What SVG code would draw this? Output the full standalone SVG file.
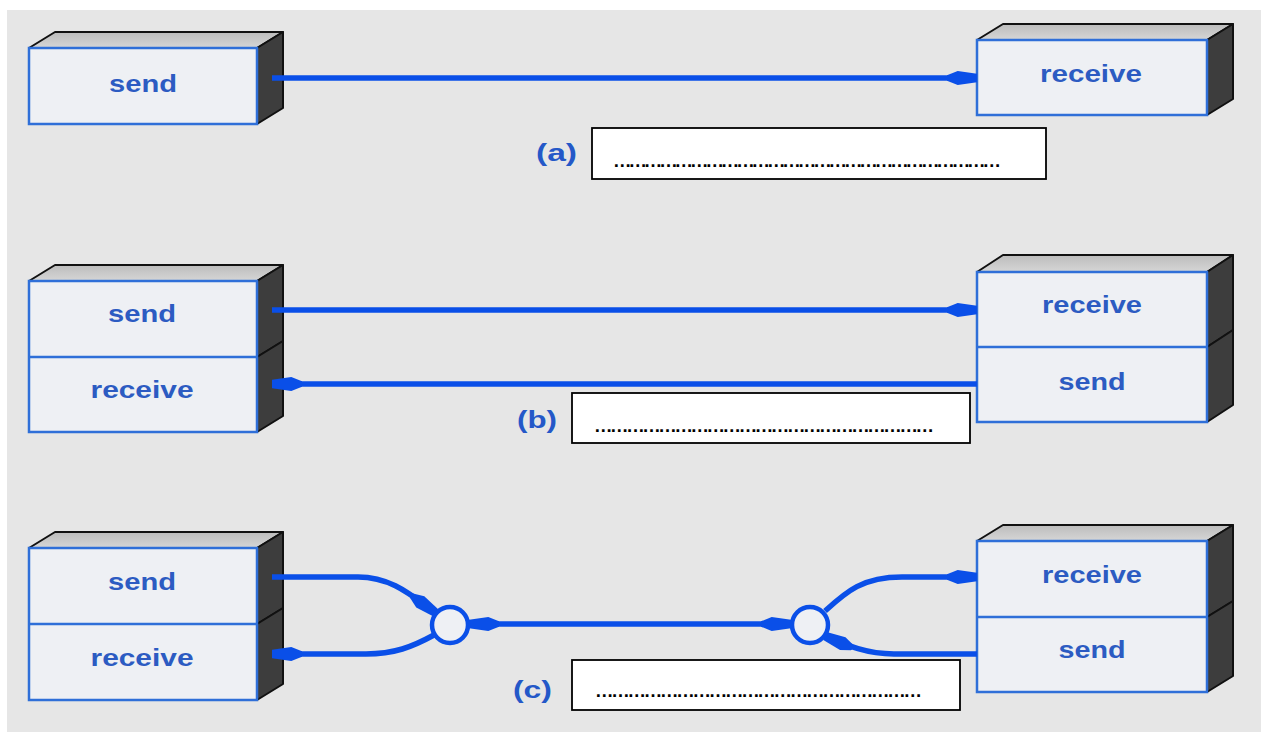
<svg xmlns="http://www.w3.org/2000/svg" width="1261" height="732" viewBox="0 0 1261 732">
<defs>
<linearGradient id="topg" x1="0" y1="0" x2="0" y2="1">
<stop offset="0" stop-color="#bcbcbc"/>
<stop offset="1" stop-color="#d6d6d6"/>
</linearGradient>
<marker id="ah" markerUnits="userSpaceOnUse" markerWidth="30" markerHeight="16" viewBox="0 0 28 14" refX="28" refY="7" orient="auto-start-reverse">
<path d="M0,4.5 L10,0.5 L28,3 L28,11 L10,13.5 L0,9.5 Z" fill="#0a4fe8"/>
</marker>
<style>
.top{fill:url(#topg);stroke:#111;stroke-width:2;stroke-linejoin:round}
.side{fill:#3d3d3d;stroke:#111;stroke-width:2;stroke-linejoin:round}
.front{fill:#eef0f4;stroke:#2f6fd8;stroke-width:2.5}
.div{stroke:#2f6fd8;stroke-width:2.5}
.lbl{font-family:"Liberation Sans",Arial,sans-serif;font-weight:bold;font-size:24px;fill:#2c5bc2}
.tag{font-family:"Liberation Sans",Arial,sans-serif;font-weight:bold;font-size:24px;fill:#2458c8}
.conn{fill:none;stroke:#0a4fe8;stroke-width:5.5}
.ring{fill:#eef0f4;stroke:#0a4fe8;stroke-width:4.5}
.ans{fill:#fff;stroke:#000;stroke-width:1.8}
.dots{font-family:"Liberation Sans",Arial,sans-serif;font-weight:bold;fill:#000}
</style>
</defs>
<rect x="0" y="0" width="1261" height="732" fill="#fff"/>
<rect x="7" y="10" width="1254" height="722" fill="#e6e6e6"/>

<g id="a-send">
<polygon class="top" points="29,48 55,32 283,32 257,48"/>
<polygon class="side" points="257,48 283,32 283,108 257,124"/>
<rect class="front" x="29" y="48" width="228" height="76"/>
<text class="lbl" x="143" y="92" text-anchor="middle" textLength="68" lengthAdjust="spacingAndGlyphs">send</text>
</g>
<g id="a-receive">
<polygon class="top" points="977,40 1003,24 1233,24 1207,40"/>
<polygon class="side" points="1207,40 1233,24 1233,99 1207,115"/>
<rect class="front" x="977" y="40" width="230" height="75"/>
<text class="lbl" x="1091" y="82" text-anchor="middle" textLength="102" lengthAdjust="spacingAndGlyphs">receive</text>
</g>

<g id="b-left">
<polygon class="top" points="29,281 55,265 283,265 257,281"/>
<polygon class="side" points="257,281 283,265 283,341 257,357"/>
<polygon class="side" points="257,357 283,341 283,416 257,432"/>
<rect class="front" x="29" y="281" width="228" height="151"/>
<line class="div" x1="29" y1="357" x2="257" y2="357"/>
<text class="lbl" x="142" y="322" text-anchor="middle" textLength="68" lengthAdjust="spacingAndGlyphs">send</text>
<text class="lbl" x="142" y="398" text-anchor="middle" textLength="103" lengthAdjust="spacingAndGlyphs">receive</text>
</g>
<g id="b-right">
<polygon class="top" points="977,272 1003,255 1233,255 1207,272"/>
<polygon class="side" points="1207,272 1233,255 1233,330 1207,347"/>
<polygon class="side" points="1207,347 1233,330 1233,405 1207,422"/>
<rect class="front" x="977" y="272" width="230" height="150"/>
<line class="div" x1="977" y1="347" x2="1207" y2="347"/>
<text class="lbl" x="1092" y="313" text-anchor="middle" textLength="100" lengthAdjust="spacingAndGlyphs">receive</text>
<text class="lbl" x="1092" y="390" text-anchor="middle" textLength="67" lengthAdjust="spacingAndGlyphs">send</text>
</g>

<g id="c-left">
<polygon class="top" points="29,548 55,532 283,532 257,548"/>
<polygon class="side" points="257,548 283,532 283,608 257,624"/>
<polygon class="side" points="257,624 283,608 283,684 257,700"/>
<rect class="front" x="29" y="548" width="228" height="152"/>
<line class="div" x1="29" y1="624" x2="257" y2="624"/>
<text class="lbl" x="142" y="590" text-anchor="middle" textLength="68" lengthAdjust="spacingAndGlyphs">send</text>
<text class="lbl" x="142" y="666" text-anchor="middle" textLength="103" lengthAdjust="spacingAndGlyphs">receive</text>
</g>
<g id="c-right">
<polygon class="top" points="977,541 1003,525 1233,525 1207,541"/>
<polygon class="side" points="1207,541 1233,525 1233,601 1207,617"/>
<polygon class="side" points="1207,617 1233,601 1233,676 1207,692"/>
<rect class="front" x="977" y="541" width="230" height="151"/>
<line class="div" x1="977" y1="617" x2="1207" y2="617"/>
<text class="lbl" x="1092" y="583" text-anchor="middle" textLength="100" lengthAdjust="spacingAndGlyphs">receive</text>
<text class="lbl" x="1092" y="658" text-anchor="middle" textLength="67" lengthAdjust="spacingAndGlyphs">send</text>
</g>

<g id="connectors">
<path class="conn" d="M272,78 L977,78" marker-end="url(#ah)"/>
<path class="conn" d="M272,310 L977,310" marker-end="url(#ah)"/>
<path class="conn" d="M977,384 L272,384" marker-end="url(#ah)"/>
<path class="conn" d="M272,577 L358,577 C392,577 412,596 436,613" marker-end="url(#ah)"/>
<path class="conn" d="M434,635 C412,647 394,654 366,654 L272,654" marker-end="url(#ah)"/>
<path class="conn" d="M469,624 L791,624" marker-start="url(#ah)" marker-end="url(#ah)"/>
<path class="conn" d="M825,611 C846,592 862,577 902,577 L977,577" marker-end="url(#ah)"/>
<path class="conn" d="M977,654 L894,654 C866,654 846,645 825,636" marker-end="url(#ah)"/>
</g>

<g id="junction-left">
<circle class="ring" cx="450" cy="625" r="18"/>
</g>
<g id="junction-right">
<circle class="ring" cx="810" cy="625" r="18"/>
</g>

<g id="answer-a">
<text class="tag" x="536" y="161" textLength="41" lengthAdjust="spacingAndGlyphs">(a)</text>
<rect class="ans" x="592" y="128" width="454" height="51"/>
<text class="dots" x="613" y="167" font-size="18.5" textLength="388" lengthAdjust="spacing">…………………………………………………………………</text>
</g>
<g id="answer-b">
<text class="tag" x="517" y="428" textLength="40" lengthAdjust="spacingAndGlyphs">(b)</text>
<rect class="ans" x="572" y="393" width="398" height="50"/>
<text class="dots" x="594" y="432" font-size="18.5" textLength="340" lengthAdjust="spacing">………………………………………………………</text>
</g>
<g id="answer-c">
<text class="tag" x="513" y="698" textLength="39" lengthAdjust="spacingAndGlyphs">(c)</text>
<rect class="ans" x="572" y="660" width="388" height="50"/>
<text class="dots" x="595" y="697" font-size="18.5" textLength="327" lengthAdjust="spacing">……………………………………………………</text>
</g>
</svg>
